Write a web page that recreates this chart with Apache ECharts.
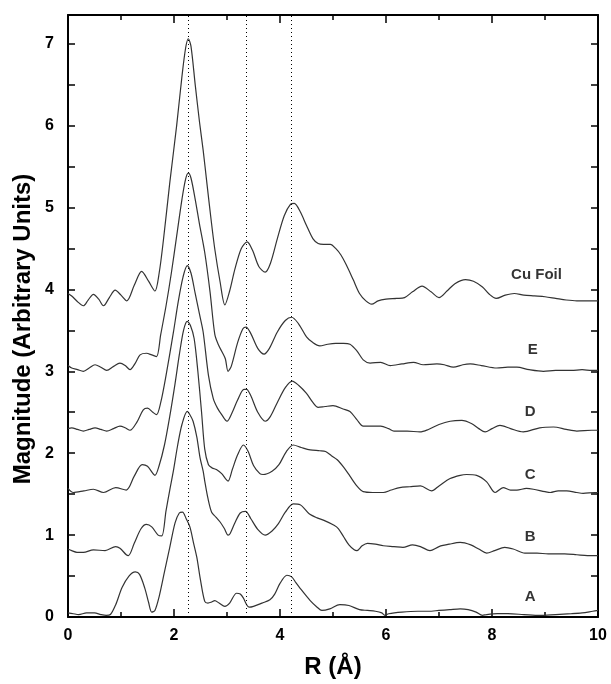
<!DOCTYPE html>
<html>
<head>
<meta charset="utf-8">
<script src="https://cdn.jsdelivr.net/npm/echarts@6/dist/echarts.min.js"></script>
<style>
html,body{margin:0;padding:0;background:#fff;}
#chart{width:611px;height:684px;}
</style>
</head>
<body>
<div id="chart"></div>
<script>
// ---- data (R in Å, magnitude in arbitrary units) ----
const rCu = [0,0.07,0.18,0.29,0.38,0.48,0.58,0.67,0.78,0.89,1.0,1.11,1.25,1.39,1.52,1.64,1.72,1.80,1.92,2.05,2.15,2.22,2.27,2.32,2.40,2.48,2.55,2.62,2.70,2.77,2.87,2.96,3.05,3.15,3.27,3.38,3.48,3.60,3.72,3.82,3.95,4.08,4.20,4.27,4.38,4.50,4.62,4.72,4.82,4.95,5.05,5.15,5.25,5.38,5.50,5.62,5.73,5.85,6.00,6.20,6.35,6.50,6.68,6.85,7.00,7.15,7.30,7.50,7.65,7.82,7.95,8.08,8.25,8.42,8.60,8.80,9.00,9.20,9.40,9.60,9.80,10.0];
const vCu = [3.95,3.92,3.85,3.80,3.87,3.94,3.88,3.80,3.90,3.99,3.93,3.86,4.05,4.22,4.10,3.98,4.20,4.60,5.30,6.00,6.60,6.95,7.06,6.97,6.50,6.05,5.70,5.30,4.85,4.49,4.09,3.81,3.98,4.25,4.50,4.58,4.48,4.28,4.21,4.32,4.62,4.90,5.04,5.05,4.95,4.78,4.62,4.56,4.55,4.55,4.50,4.42,4.30,4.12,3.95,3.86,3.82,3.86,3.88,3.89,3.90,3.97,4.04,3.97,3.90,3.98,4.07,4.12,4.10,4.03,3.94,3.89,3.93,3.95,3.93,3.92,3.91,3.89,3.87,3.86,3.86,3.86];

const rE = [0,0.07,0.18,0.29,0.40,0.51,0.62,0.73,0.86,0.98,1.08,1.17,1.27,1.36,1.48,1.58,1.67,1.75,1.85,1.95,2.05,2.15,2.22,2.27,2.32,2.40,2.48,2.58,2.68,2.77,2.84,2.92,2.97,3.02,3.08,3.20,3.30,3.36,3.45,3.58,3.70,3.80,3.95,4.10,4.22,4.35,4.50,4.62,4.75,4.90,5.05,5.20,5.32,5.45,5.57,5.70,5.90,6.08,6.30,6.52,6.70,6.96,7.10,7.27,7.45,7.59,7.80,8.09,8.30,8.47,8.70,8.97,9.20,9.50,9.70,9.88,10.0];
const vE = [3.07,3.04,3.02,3.00,3.04,3.08,3.05,3.01,3.06,3.10,3.07,3.02,3.10,3.20,3.22,3.20,3.18,3.45,3.80,4.20,4.65,5.10,5.35,5.42,5.36,5.10,4.80,4.45,3.97,3.45,3.32,3.22,3.15,3.00,3.06,3.35,3.52,3.54,3.46,3.28,3.21,3.28,3.48,3.62,3.66,3.58,3.42,3.35,3.31,3.33,3.34,3.34,3.33,3.25,3.14,3.10,3.11,3.07,3.09,3.11,3.08,3.09,3.08,3.05,3.08,3.09,3.07,3.04,3.05,3.05,3.02,3.00,3.01,3.01,3.02,3.01,3.01];

const rD = [0,0.07,0.18,0.29,0.40,0.51,0.62,0.73,0.86,0.98,1.08,1.17,1.30,1.42,1.50,1.60,1.67,1.75,1.85,1.99,2.08,2.17,2.25,2.32,2.40,2.48,2.55,2.65,2.74,2.82,2.90,3.00,3.10,3.20,3.32,3.37,3.45,3.58,3.72,3.82,3.95,4.10,4.23,4.35,4.50,4.62,4.72,4.85,5.00,5.19,5.32,5.45,5.57,5.70,5.90,6.05,6.15,6.40,6.64,6.80,7.00,7.21,7.43,7.62,7.75,7.87,8.00,8.15,8.35,8.59,8.90,9.16,9.40,9.60,9.88,10.0];
const vD = [2.30,2.31,2.29,2.27,2.29,2.31,2.29,2.27,2.30,2.33,2.31,2.28,2.38,2.53,2.55,2.50,2.47,2.62,2.95,3.48,3.85,4.15,4.29,4.20,3.95,3.70,3.48,2.95,2.67,2.55,2.47,2.39,2.50,2.65,2.78,2.78,2.70,2.50,2.39,2.45,2.62,2.80,2.88,2.83,2.73,2.62,2.56,2.57,2.58,2.54,2.51,2.41,2.33,2.33,2.33,2.30,2.27,2.27,2.26,2.29,2.35,2.39,2.40,2.36,2.30,2.26,2.30,2.34,2.30,2.26,2.31,2.32,2.29,2.27,2.28,2.28];

const rC = [0,0.10,0.30,0.48,0.67,0.90,1.10,1.25,1.40,1.50,1.64,1.72,1.82,1.92,2.02,2.10,2.18,2.25,2.31,2.38,2.45,2.52,2.58,2.65,2.72,2.80,2.90,2.97,3.02,3.10,3.20,3.31,3.40,3.50,3.62,3.68,3.85,3.98,4.12,4.25,4.40,4.57,4.75,4.86,4.97,5.08,5.20,5.32,5.45,5.57,5.75,5.95,6.10,6.26,6.45,6.65,6.86,7.00,7.21,7.40,7.52,7.71,7.90,8.06,8.21,8.35,8.47,8.65,8.78,9.00,9.10,9.25,9.41,9.60,9.72,9.94,10.0];
const vC = [1.57,1.52,1.54,1.56,1.52,1.58,1.55,1.72,1.86,1.84,1.73,1.85,2.10,2.45,2.85,3.20,3.50,3.61,3.56,3.40,3.00,2.50,2.05,1.86,1.82,1.80,1.75,1.69,1.66,1.80,1.98,2.10,2.02,1.85,1.75,1.74,1.78,1.86,2.02,2.10,2.07,2.04,2.03,2.02,1.97,1.92,1.83,1.72,1.60,1.53,1.52,1.52,1.55,1.58,1.59,1.60,1.54,1.60,1.69,1.73,1.74,1.73,1.65,1.52,1.58,1.55,1.55,1.57,1.56,1.53,1.52,1.54,1.54,1.52,1.51,1.52,1.52];

const rB = [0,0.07,0.17,0.29,0.48,0.70,0.90,0.98,1.10,1.14,1.25,1.38,1.48,1.58,1.70,1.77,1.85,1.92,1.99,2.07,2.15,2.25,2.30,2.36,2.43,2.49,2.55,2.58,2.64,2.71,2.79,2.87,2.95,3.02,3.06,3.15,3.25,3.35,3.45,3.58,3.72,3.85,3.97,4.10,4.25,4.38,4.55,4.70,4.83,5.02,5.10,5.20,5.30,5.40,5.45,5.55,5.65,5.80,5.95,6.15,6.32,6.50,6.65,6.83,7.00,7.20,7.40,7.60,7.75,7.90,8.05,8.24,8.40,8.62,8.85,9.06,9.20,9.37,9.60,9.80,10.0];
const vB = [0.83,0.81,0.79,0.79,0.82,0.81,0.86,0.84,0.76,0.75,0.90,1.08,1.13,1.10,1.00,0.99,1.30,1.55,1.79,2.10,2.35,2.51,2.47,2.39,2.20,1.95,1.78,1.66,1.45,1.28,1.22,1.16,1.08,1.00,1.02,1.15,1.27,1.29,1.20,1.07,1.00,1.05,1.14,1.28,1.38,1.37,1.26,1.21,1.18,1.12,1.08,0.98,0.88,0.82,0.81,0.87,0.90,0.89,0.87,0.86,0.85,0.88,0.86,0.81,0.86,0.89,0.91,0.88,0.83,0.78,0.81,0.85,0.83,0.78,0.78,0.77,0.77,0.77,0.76,0.75,0.75];

const rA = [0,0.10,0.20,0.35,0.50,0.62,0.72,0.80,0.90,1.02,1.15,1.27,1.35,1.45,1.52,1.58,1.64,1.72,1.82,1.92,2.02,2.10,2.16,2.23,2.30,2.37,2.43,2.50,2.58,2.64,2.70,2.77,2.85,2.96,3.05,3.18,3.25,3.31,3.38,3.42,3.50,3.66,3.81,3.90,4.00,4.13,4.22,4.30,4.38,4.57,4.70,4.79,4.94,5.13,5.30,5.50,5.65,5.80,5.92,5.98,6.05,6.30,6.60,6.80,7.00,7.20,7.40,7.55,7.70,7.82,7.90,8.10,8.30,8.60,8.90,9.20,9.50,9.70,9.90,10.0];
const vA = [0.05,0.04,0.03,0.05,0.05,0.03,0.02,0.03,0.15,0.36,0.50,0.55,0.52,0.35,0.18,0.06,0.08,0.25,0.55,0.85,1.15,1.27,1.28,1.20,1.10,0.90,0.73,0.45,0.19,0.17,0.18,0.20,0.17,0.13,0.17,0.29,0.28,0.23,0.14,0.12,0.13,0.17,0.21,0.28,0.41,0.51,0.49,0.42,0.35,0.20,0.12,0.08,0.10,0.15,0.14,0.09,0.08,0.07,0.05,0.02,0.04,0.06,0.07,0.07,0.08,0.09,0.10,0.09,0.06,0.02,0.03,0.04,0.04,0.03,0.02,0.03,0.04,0.05,0.07,0.08];

const refLinesR = [2.27, 3.36, 4.21];

const labelText = ['Cu Foil', 'E', 'D', 'C', 'B', 'A'];
const labelR = [8.84, 8.77, 8.72, 8.72, 8.72, 8.72];
const labelV = [4.18, 3.26, 2.51, 1.74, 0.98, 0.25];

const xTicks = [0, 2, 4, 6, 8, 10];
const yTicks = [0, 1, 2, 3, 4, 5, 6, 7];
const xTitle = 'R (Å)';
const yTitle = 'Magnitude (Arbitrary Units)';

// ---- build ----
const zip = (xs, ys) => xs.map((x, i) => [x, ys[i]]);
const curves = [
  ['Cu Foil', rCu, vCu], ['E', rE, vE], ['D', rD, vD],
  ['C', rC, vC], ['B', rB, vB], ['A', rA, vA]
];

const FONT = '"Liberation Sans", Arial, sans-serif';
const tickStyle = { color: '#000', width: 1.5 };

function xAxisDef(pos, showLabel) {
  return {
    type: 'value', min: 0, max: 10, interval: 2, position: pos,
    axisLine: { show: true, onZero: false, lineStyle: { color: '#000', width: 2 } },
    axisTick: { show: true, inside: true, length: 8, lineStyle: tickStyle },
    minorTick: { show: true, splitNumber: 2, length: 5, lineStyle: tickStyle },
    splitLine: { show: false }, minorSplitLine: { show: false },
    axisLabel: {
      show: showLabel, color: '#000', fontFamily: FONT, fontWeight: 'bold', fontSize: 16, margin: 11,
      formatter: v => xTicks.indexOf(v) >= 0 ? String(v) : ''
    },
    name: showLabel ? xTitle : '', nameLocation: 'middle', nameGap: 38,
    nameTextStyle: { color: '#000', fontFamily: FONT, fontWeight: 'bold', fontSize: 24 }
  };
}
function yAxisDef(pos, showLabel) {
  return {
    type: 'value', min: 0, max: 7.35, interval: 0.5, position: pos,
    axisLine: { show: true, onZero: false, lineStyle: { color: '#000', width: 2 } },
    axisTick: { show: true, inside: true, length: 7, lineStyle: tickStyle },
    splitLine: { show: false },
    axisLabel: {
      show: showLabel, color: '#000', fontFamily: FONT, fontWeight: 'bold', fontSize: 16, margin: 14,
      formatter: v => {
        const r = Math.round(v);
        return (Math.abs(v - r) < 1e-6 && yTicks.indexOf(r) >= 0) ? String(r) : '';
      }
    }
  };
}

const series = curves.map((c, i) => ({
  name: c[0], type: 'line', data: zip(c[1], c[2]),
  xAxisIndex: 0, yAxisIndex: 0,
  smooth: 0.3, symbol: 'none', silent: true,
  lineStyle: { color: '#333', width: 1.2 },
  markLine: i === 0 ? {
    silent: true, symbol: 'none', label: { show: false },
    lineStyle: { color: '#000', width: 1, type: [1, 3] },
    data: refLinesR.map(r => ({ xAxis: r }))
  } : undefined
}));

series.push({
  type: 'scatter', xAxisIndex: 0, yAxisIndex: 0, symbolSize: 0, silent: true,
  data: labelR.map((r, i) => [r, labelV[i], labelText[i]]),
  label: {
    show: true, position: 'inside', formatter: p => p.data[2],
    color: '#000', fontFamily: FONT, fontWeight: 'bold', fontSize: 15
  }
});

const chart = echarts.init(document.getElementById('chart'), null, { renderer: 'canvas' });
chart.setOption({
  animation: false,
  backgroundColor: '#fff',
  grid: { left: 68, right: 13, top: 15, bottom: 67, containLabel: false, outerBoundsMode: 'none' },
  xAxis: [xAxisDef('bottom', true), xAxisDef('top', false)],
  yAxis: [yAxisDef('left', true), yAxisDef('right', false)],
  graphic: [{
    type: 'text', x: 23, y: 329, rotation: Math.PI / 2, silent: true,
    style: {
      text: yTitle, fill: '#000', font: 'bold 24px "Liberation Sans", Arial, sans-serif',
      align: 'center', verticalAlign: 'middle'
    }
  }],
  series: series
});
</script>
</body>
</html>
